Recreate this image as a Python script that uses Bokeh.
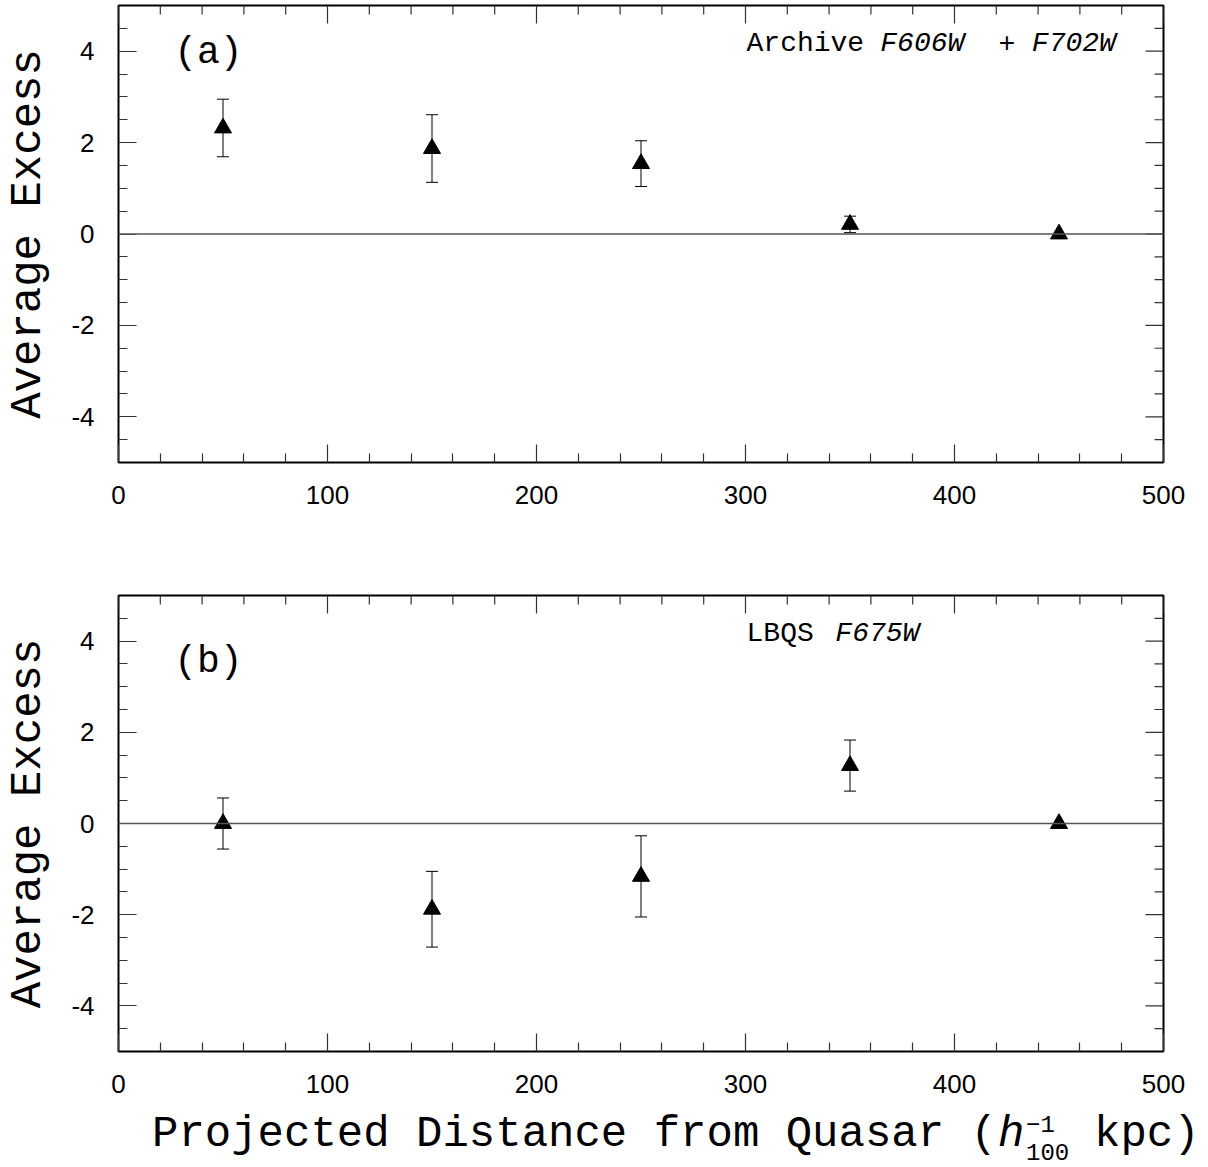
from bokeh.plotting import figure
from bokeh.layouts import column
from bokeh.models import (ColumnDataSource, FixedTicker, LinearAxis, Range1d,
                          Span, Whisker, TeeHead, Label, Div)
from bokeh.embed import file_html
from bokeh.resources import INLINE

# ---- data ----
distance = [50, 150, 250, 350, 450]
excess_a = [2.32, 1.87, 1.54, 0.21, 0.0]
err_a = [0.63, 0.74, 0.50, 0.18, 0.0]
excess_b = [0.0, -1.88, -1.16, 1.27, 0.0]
err_b = [0.56, 0.83, 0.89, 0.56, 0.0]

x_major = [0, 100, 200, 300, 400, 500]
x_minor = [v for v in range(0, 501, 20) if v % 100]
y_major = [-4, -2, 0, 2, 4]
y_minor = [v / 2 for v in range(-9, 10) if v % 4]
y_tick_text = {-4: "-4", -2: "-2", 0: "0", 2: "2", 4: "4"}

MONO = "Liberation Mono"
SANS = "Liberation Sans"
INK = "black"
TICK = "#333333"

FRAME_W = 1045
LEFT = 118
RIGHT = 40
TOTAL_W = LEFT + FRAME_W + RIGHT


def style_axis(ax):
    ax.axis_line_color = None
    ax.major_tick_in = 18
    ax.major_tick_out = 0
    ax.minor_tick_in = 9
    ax.minor_tick_out = 0
    ax.major_tick_line_color = TICK
    ax.minor_tick_line_color = TICK
    ax.major_tick_line_width = 1.2
    ax.minor_tick_line_width = 1.2
    ax.major_label_text_font = SANS
    ax.major_label_text_font_size = "26px"
    ax.major_label_text_color = INK


def make_panel(ys, errs, frame_h, top, bottom):
    p = figure(frame_width=FRAME_W, frame_height=frame_h,
               min_border_left=LEFT, min_border_right=RIGHT,
               min_border_top=top, min_border_bottom=bottom,
               x_range=Range1d(0, 500), y_range=Range1d(-5, 5),
               output_backend="svg", toolbar_location=None,
               x_axis_location=None, y_axis_location=None)
    p.grid.visible = False
    p.outline_line_color = "black"
    p.outline_line_width = 2
    p.background_fill_color = "white"
    p.border_fill_color = "white"

    bx = LinearAxis(ticker=FixedTicker(ticks=x_major, minor_ticks=x_minor))
    style_axis(bx)
    bx.major_label_standoff = 23
    p.add_layout(bx, "below")

    ly = LinearAxis(ticker=FixedTicker(ticks=y_major, minor_ticks=y_minor),
                    major_label_overrides=y_tick_text,
                    axis_label="Average Excess")
    style_axis(ly)
    ly.major_label_standoff = 24
    ly.axis_label_text_font = MONO
    ly.axis_label_text_font_size = "44px"
    ly.axis_label_text_font_style = "normal"
    ly.axis_label_text_color = INK
    ly.axis_label_standoff = 15
    p.add_layout(ly, "left")

    # mirrored inward ticks on the top and right edges
    ky = 10.0 / frame_h      # data units per pixel (y)
    kx = 500.0 / FRAME_W     # data units per pixel (x)
    tx = x_major + x_minor
    tl = [18 * ky] * len(x_major) + [9 * ky] * len(x_minor)
    p.segment(x0=tx, y0=[5] * len(tx), x1=tx, y1=[5 - t for t in tl],
              line_color=TICK, line_width=1.2)
    ty = y_major + y_minor
    rl = [18 * kx] * len(y_major) + [9 * kx] * len(y_minor)
    p.segment(x0=[500] * len(ty), y0=ty, x1=[500 - r for r in rl], y1=ty,
              line_color=TICK, line_width=1.2)

    p.add_layout(Span(location=0, dimension="width", line_color="#555555",
                      line_width=1.5))

    lower = [y - e for y, e in zip(ys, errs)]
    upper = [y + e for y, e in zip(ys, errs)]
    src = ColumnDataSource(dict(x=distance, y=ys, lower=lower, upper=upper))
    w = Whisker(base="x", lower="lower", upper="upper", source=src,
                dimension="height", line_color="black", line_width=1,
                lower_head=TeeHead(size=12, line_color="black", line_width=1),
                upper_head=TeeHead(size=12, line_color="black", line_width=1))
    p.add_layout(w)
    p.scatter("x", "y", source=src, marker="triangle", size=17,
              fill_color="black", line_color="black")
    return p


pa = make_panel(excess_a, err_a, 457, 5, 60)
pb = make_panel(excess_b, err_b, 456, 73, 58)

# panel annotations
pa.add_layout(Label(x=43, y=3.98, text="(a)", text_font=MONO,
                    text_font_size="38px", text_align="center",
                    text_color=INK, text_baseline="alphabetic"))
pb.add_layout(Label(x=43, y=3.55, text="(b)", text_font=MONO,
                    text_font_size="38px", text_align="center",
                    text_color=INK, text_baseline="alphabetic"))

for txt, xx, st in [("Archive", 300.5, "normal"), ("F606W", 364.5, "italic"),
                    ("+", 421.0, "normal"), ("F702W", 437.0, "italic")]:
    pa.add_layout(Label(x=xx, y=4.17, text=txt, text_font=MONO,
                        text_font_size="28px", text_font_style=st,
                        text_color=INK, text_align="left",
                        text_baseline="alphabetic"))
for txt, xx, st in [("LBQS", 300.5, "normal"), ("F675W", 343.0, "italic")]:
    pb.add_layout(Label(x=xx, y=4.17, text=txt, text_font=MONO,
                        text_font_size="28px", text_font_style=st,
                        text_color=INK, text_align="left",
                        text_baseline="alphabetic"))

# x-axis title (with h^-1_100), as positioned HTML text below panel (b)
C_H = 58
pieces = [
    ("Projected Distance from Quasar (", 152, 3, 44, "normal"),
    ("h", 998, 3, 44, "italic"),
    ("\u22121", 1026, 5, 24, "normal"),
    ("100", 1026, 33, 24, "normal"),
    ("kpc)", 1094, 3, 44, "normal"),
]
spans = "".join(
    f'<span style="position:absolute;left:{x}px;top:{t}px;'
    f'font-size:{s}px;line-height:1;font-style:{st};white-space:pre">'
    f'{txt}</span>'
    for txt, x, t, s, st in pieces)
html = (f'<div style="position:relative;width:{TOTAL_W}px;height:{C_H}px;'
        f"font-family:'{MONO}';color:black\">{spans}</div>")
xtitle = Div(text=html, width=TOTAL_W, height=C_H, margin=(0, 0, 0, 0))

layout = column(pa, pb, xtitle, spacing=0)
open("out.html", "w").write(file_html(layout, INLINE))
